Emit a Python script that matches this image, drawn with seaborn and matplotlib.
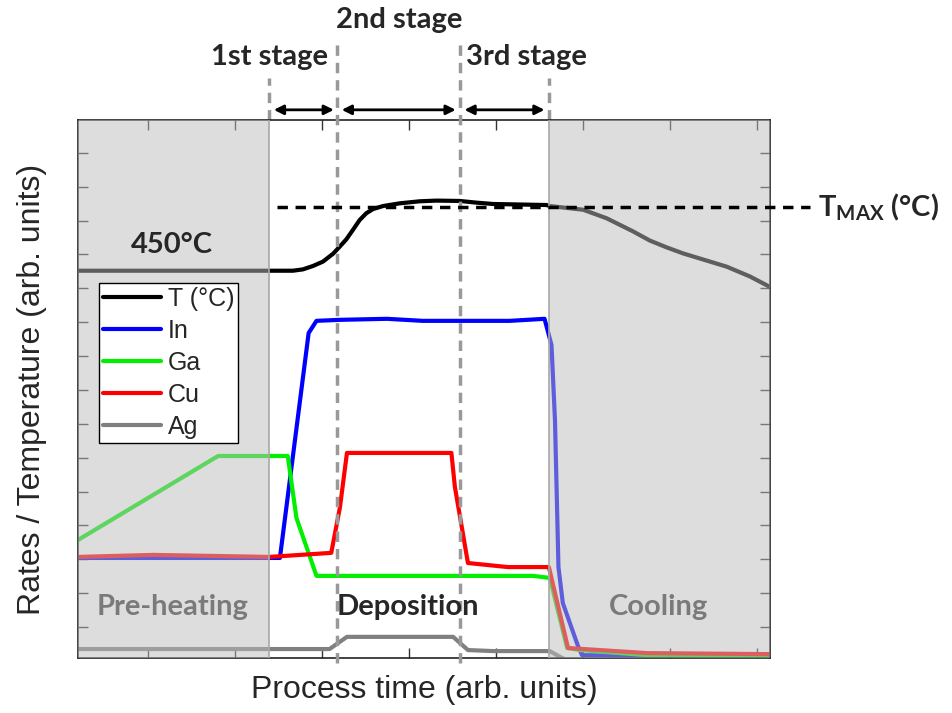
import matplotlib
matplotlib.use("Agg")
import numpy as np
import matplotlib.pyplot as plt
import seaborn as sns

# ─── Data (arb. units) ───────────────────────────────────
t_x = [0.2, 2.67, 2.785, 2.90, 3.015, 3.13, 3.207, 3.284, 3.36, 3.437, 3.514,
       3.59, 3.705, 3.897, 4.126, 4.318, 4.586, 4.778, 4.969, 5.583, 5.62,
       6.004, 6.272, 6.578, 6.77, 6.962, 7.153, 7.345, 7.652, 7.92, 8.15]
t_y = [11.52, 11.52, 11.56, 11.66, 11.79, 12.02, 12.23, 12.45, 12.73, 13.02,
       13.22, 13.34, 13.43, 13.51, 13.57, 13.59, 13.58, 13.53, 13.49, 13.46,
       13.43, 13.32, 13.07, 12.68, 12.41, 12.21, 12.03, 11.88, 11.64, 11.35,
       11.04]

in_x = [0.2, 2.52, 2.85, 2.94, 3.21, 3.75, 4.16, 5.16, 5.56, 5.64, 5.68, 5.72,
        5.77, 5.94, 5.99, 8.15]
in_y = [3.04, 3.04, 9.68, 10.04, 10.07, 10.10, 10.04, 10.04, 10.10, 9.33, 7.11,
        2.77, 1.71, 0.47, 0.17, 0.12]

ga_x = [0.2, 1.81, 2.61, 2.71, 2.94, 5.43, 5.62, 5.82, 5.97, 6.74, 8.15]
ga_y = [3.57, 6.05, 6.05, 4.22, 2.51, 2.51, 2.45, 0.38, 0.32, 0.17, 0.11]

cu_x = [0.2, 1.06, 2.40, 3.11, 3.21, 3.29, 4.49, 4.53, 4.68, 5.14, 5.61, 5.83,
        6.74, 8.15]
cu_y = [3.07, 3.13, 3.07, 3.19, 4.54, 6.14, 6.14, 5.14, 2.89, 2.77, 2.77, 0.38,
        0.23, 0.20]

ag_x = [0.2, 3.09, 3.29, 4.51, 4.68, 4.97, 5.62, 5.89, 8.15]
ag_y = [0.35, 0.35, 0.71, 0.71, 0.32, 0.29, 0.29, -0.1, -0.1]

series = [("T (°C)", t_x, t_y, "black"),
          ("In", in_x, in_y, "#0000FF"),
          ("Ga", ga_x, ga_y, "#00F000"),
          ("Cu", cu_x, cu_y, "#FF0000"),
          ("Ag", ag_x, ag_y, "#808080")]

T_MAX = 13.40
preheat = (0.2, 2.40)
cooling = (5.61, 8.15)
stage_edges = [2.40, 3.18, 4.59, 5.61]

# ─── Style ────────────────────────────────────────────────
sns.set_style("ticks")
plt.rcParams["font.family"] = ["Liberation Sans", "DejaVu Sans"]
plt.rcParams["mathtext.fontset"] = "custom"
plt.rcParams["mathtext.bf"] = "Lato:bold"
plt.rcParams["mathtext.rm"] = "Lato"
BOLD = ["Lato", "DejaVu Sans"]
GRAYTXT = "#7a7a7a"
FS = 21

fig = plt.figure(figsize=(9.52, 7.13), dpi=100)
ax = fig.add_axes([0.0819, 0.0771, 0.7269, 0.7546])

for name, xs, ys, col in series:
    sns.lineplot(x=xs, y=ys, color=col, lw=3, ax=ax, label=name, zorder=2)

ax.set_xlim(0.2, 8.15)
ax.set_ylim(0.085, 15.97)
ax.set_xticks(np.arange(1, 9))
ax.set_yticks(np.arange(1, 16))
ax.tick_params(direction="in", length=7, width=1, top=True, right=True,
               labelbottom=False, labelleft=False, color="#333333")
for s in ax.spines.values():
    s.set_linewidth(1.2)
    s.set_color("#222222")

# shaded phases drawn over the curves
for a, b in (preheat, cooling):
    ax.axvspan(a, b, color="#BCBCBC", alpha=0.5, lw=0, zorder=3)
for xe in (stage_edges[0], stage_edges[3]):
    ax.axvline(xe, color="#A8A8A8", lw=1.2, zorder=3)
    ax.plot([xe, xe], [15.97, 17.2], color="#999999", lw=2.5, ls=(0, (3, 2)),
            clip_on=False)
for xe in (stage_edges[1], stage_edges[2]):
    ax.plot([xe, xe], [-0.05, 18.3], color="#999999", lw=2.5, ls=(0, (3, 2)),
            clip_on=False, zorder=4)

# T max line
ax.plot([2.49, 8.61], [T_MAX, T_MAX], color="black", lw=2.5, ls=(0, (3, 2.2)),
        clip_on=False, zorder=4)
ax.text(8.70, T_MAX, r"$\mathbf{T}_{\mathbf{MAX}}$ (°C)", fontsize=FS,
        fontweight="bold", family=BOLD, va="center", ha="left")

# stage arrows
for a, b in [(2.45, 3.14), (3.23, 4.54), (4.64, 5.56)]:
    ax.annotate("", xy=(b, 16.27), xytext=(a, 16.27), annotation_clip=False,
                arrowprops=dict(arrowstyle="<|-|>", color="black", lw=2,
                                mutation_scale=14, shrinkA=0, shrinkB=0))
ax.text(2.40, 17.83, "1st stage", fontsize=FS, fontweight="bold", family=BOLD,
        ha="center", va="center")
ax.text(3.885, 18.93, "2nd stage", fontsize=FS, fontweight="bold", family=BOLD,
        ha="center", va="center")
ax.text(5.356, 17.83, "3rd stage", fontsize=FS, fontweight="bold", family=BOLD,
        ha="center", va="center")

# labels inside
ax.text(1.276, 12.28, "450°C", fontsize=FS, fontweight="bold", family=BOLD,
        ha="center", va="center", zorder=5)
ax.text(1.29, 1.59, "Pre-heating", fontsize=FS, fontweight="bold", family=BOLD,
        color=GRAYTXT, ha="center", va="center", zorder=5)
ax.text(3.99, 1.59, "Deposition", fontsize=FS, fontweight="bold", family=BOLD,
        ha="center", va="center", zorder=5)
ax.text(6.87, 1.59, "Cooling", fontsize=FS, fontweight="bold", family=BOLD,
        color=GRAYTXT, ha="center", va="center", zorder=5)

ax.set_xlabel("Process time (arb. units)", fontsize=23, labelpad=12)
ax.set_ylabel("Rates / Temperature (arb. units)", fontsize=23, labelpad=22)

leg = ax.legend(loc="upper left", bbox_to_anchor=(0.0303, 0.697),
                fontsize=18, frameon=True, fancybox=False, edgecolor="black",
                framealpha=1, handlelength=2.35, handletextpad=0.25,
                labelspacing=0.32, borderaxespad=0, borderpad=0.15)
leg.get_frame().set_linewidth(1)
leg.set_zorder(6)

plt.savefig("out.png", dpi=100)
